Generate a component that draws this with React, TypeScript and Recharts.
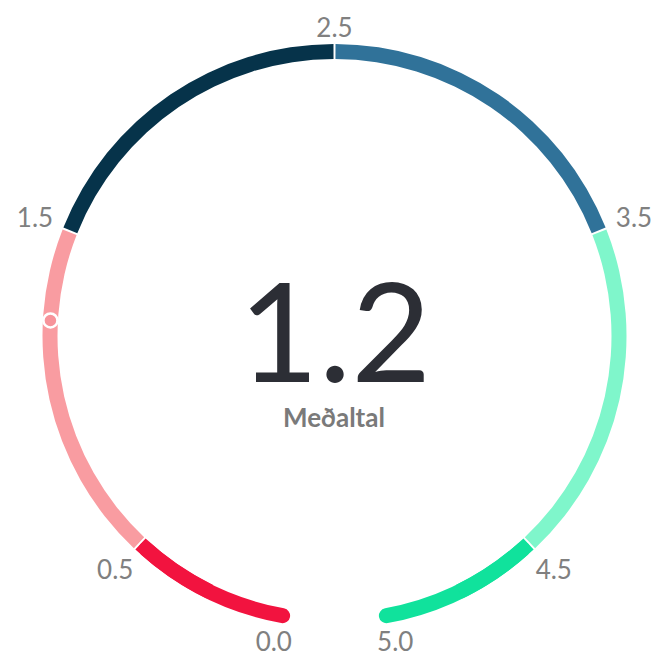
import React from "react"
import { PolarAngleAxis, RadialBar, RadialBarChart, Sector } from "recharts"

// gauge bands, from 0.0 round to 5.0
const bandKeys = ["b0", "b1", "b2", "b3", "b4", "b5"]
const bandLengths = [0.5, 1, 1, 1, 1, 0.5]
const bandColors = ["#f2133f", "#f99ca1", "#06334a", "#307299", "#7ff6cb", "#10e29c"]

const tickValues = [0, 0.5, 1.5, 2.5, 3.5, 4.5, 5]
const scaleDomain: [number, number] = [0, 5]

const averageValue = 1.23
const averageLabel = "Meðaltal"

const markerColor = "#f7939a"
const labelColor = "#808080"
const FONT = "Lato, 'Open Sans', sans-serif"
const RAD = Math.PI / 180
const GAP = 0.2 // degrees trimmed each side of an inner band boundary

const bandRow: Record<string, number | string> = { name: "gauge" }
bandKeys.forEach((k, i) => {
  bandRow[k] = bandLengths[i]
})
const bandData = [bandRow]
const markerData = [{ name: "gauge", marker: averageValue }]

// shared polar geometry for both layers; the 15px bar sits centred in the band
const polar = {
  width: 654,
  height: 656,
  cx: 334.5,
  cy: 336,
  innerRadius: 270,
  outerRadius: 299,
  startAngle: 261,
  endAngle: -81,
  barSize: 15,
}

function bandShape(index: number) {
  const first = index === 0
  const last = index === bandKeys.length - 1
  return (props: any) => {
    const { cx, cy, innerRadius, outerRadius, startAngle, endAngle, fill } = props
    const dir = endAngle < startAngle ? -1 : 1
    const s = first ? startAngle : startAngle + dir * GAP
    const e = last ? endAngle : endAngle - dir * GAP
    const base = { cx, cy, innerRadius, outerRadius, fill, stroke: "none" }
    if (!first && !last) return <Sector {...base} startAngle={s} endAngle={e} />
    const mid = (s + e) / 2
    const cr = (outerRadius - innerRadius) / 2
    return (
      <g>
        <Sector {...base} startAngle={s} endAngle={e} cornerRadius={cr} forceCornerRadius />
        {first ? (
          <Sector {...base} startAngle={mid} endAngle={e} />
        ) : (
          <Sector {...base} startAngle={s} endAngle={mid} />
        )}
      </g>
    )
  }
}

const MarkerShape = (props: any) => {
  const { cx, cy, innerRadius, outerRadius, endAngle } = props
  const r = (innerRadius + outerRadius) / 2
  const x = cx + r * Math.cos(-endAngle * RAD)
  const y = cy + r * Math.sin(-endAngle * RAD)
  return <circle cx={x} cy={y} r={7} fill={markerColor} stroke="#ffffff" strokeWidth={2.5} />
}

const GaugeTick = (props: any) => {
  const { x, y, cx, cy, payload } = props
  const dx = x - cx
  const dy = y - cy
  const len = Math.hypot(dx, dy) || 1
  const ux = dx / len
  const uy = dy / len
  const push = Math.abs(ux) * 22 + Math.abs(uy) * 10 - 9
  let tx = x + ux * push
  let ty = y + uy * push
  const v = Number(payload.value)
  if (v === scaleDomain[0] || v === scaleDomain[1]) {
    tx += Math.sign(ux) * 12
    ty -= 2
  }
  return (
    <text x={tx} y={ty} dy="0.36em" textAnchor="middle" fill={labelColor} fontSize={26} fontFamily={FONT}>
      {v.toFixed(1)}
    </text>
  )
}

export default function App() {
  return (
    <div style={{ position: "absolute", left: 0, top: 0, width: 654, height: 656, background: "#fff" }}>
      <RadialBarChart {...polar} data={bandData}>
        <PolarAngleAxis
          type="number"
          domain={scaleDomain}
          ticks={tickValues}
          axisLine={false}
          tickLine={false}
          tick={<GaugeTick />}
        />
        {bandKeys.map((k, i) => (
          <RadialBar
            key={k}
            dataKey={k}
            stackId="bands"
            fill={bandColors[i]}
            shape={bandShape(i)}
            isAnimationActive={false}
          />
        ))}
        <text x={335} y={382} textAnchor="middle" fill="#2c2e35" fontSize={138} fontWeight={400} fontFamily={FONT}>
          {averageValue.toFixed(1)}
        </text>
        <text x={334} y={427} textAnchor="middle" fill="#7a7a7a" fontSize={26} fontWeight={700} fontFamily={FONT}>
          {averageLabel}
        </text>
      </RadialBarChart>
      <div style={{ position: "absolute", left: 0, top: 0 }}>
        <RadialBarChart {...polar} data={markerData}>
          <PolarAngleAxis type="number" domain={scaleDomain} axisLine={false} tickLine={false} tick={false} />
          <RadialBar dataKey="marker" shape={<MarkerShape />} isAnimationActive={false} />
        </RadialBarChart>
      </div>
    </div>
  )
}
